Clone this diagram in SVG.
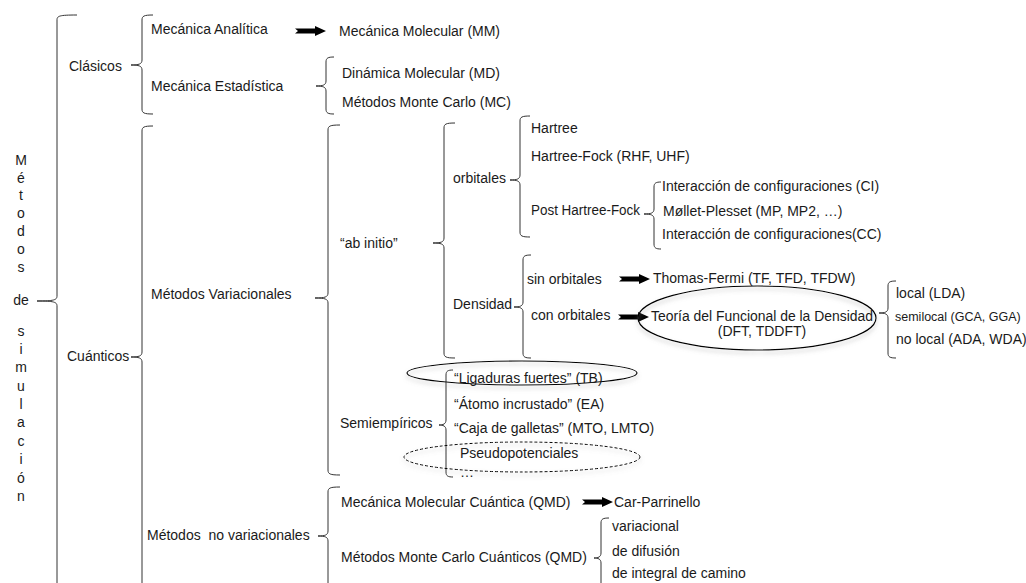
<svg xmlns="http://www.w3.org/2000/svg" width="1026" height="583" viewBox="0 0 1026 583">
<style>
text{font-family:"Liberation Sans",Arial,sans-serif;font-size:14px;fill:#1a1a1a;white-space:pre}
.v{text-anchor:middle}
.b{fill:none;stroke:#333;stroke-width:1}
.e{fill:none;stroke:#000;stroke-width:1.2;filter:url(#sh)}
.d{fill:none;stroke:#000;stroke-width:1;stroke-dasharray:3 2;filter:url(#sh)}
.a{fill:#000}
</style>
<defs>
<path id="arw" d="M0,-2.5 L20,-2.5 L20,-5 L31,0 L20,5 L20,2.5 L0,2.5 L3,0 Z"/>
<filter id="sh" x="-10%" y="-30%" width="120%" height="170%">
<feDropShadow dx="0" dy="3" stdDeviation="2" flood-color="#888" flood-opacity="0.55"/>
</filter>
</defs>
<rect width="1026" height="583" fill="#fff"/>
<g id="connectors">
<path class="b" d="M77,15 C59,15 57,16 57,20 L57,296 C57,300 54,301 37,301 C54,301 57,302 57,306 L57,600"/>
<path class="b" d="M153,15 C144,15 142,16 142,20 L142,60 C142,64 139,65 131,65 C139,65 142,66 142,70 L142,109 C142,113 144,114 153,114"/>
<path class="b" d="M153,126 C144,126 142,127 142,131 L142,352 C142,356 139,357 131,357 C139,357 142,358 142,362 L142,600"/>
<path class="b" d="M334,57 C328,57 326,58 326,62 L326,81 C326,85 323,86 316,86 C323,86 326,87 326,91 L326,109 C326,113 328,114 334,114"/>
<path class="b" d="M340,125 C330,125 328,126 328,130 L328,293 C328,297 325,298 315,298 C325,298 328,299 328,303 L328,470 C328,474 330,475 340,475"/>
<path class="b" d="M340,487 C330,487 328,488 328,492 L328,531 C328,535 325,536 318,536 C325,536 328,537 328,541 L328,600"/>
<path class="b" d="M455,123 C446,123 444,124 444,128 L444,238 C444,242 441,243 433,243 C441,243 444,244 444,248 L444,353 C444,357 446,358 455,358"/>
<path class="b" d="M530,116 C522,116 520,117 520,121 L520,175 C520,179 517,180 510,180 C517,180 520,181 520,185 L520,232 C520,236 522,237 530,237"/>
<path class="b" d="M661,182 C656,182 654,183 654,187 L654,209 C654,213 651,214 644,214 C651,214 654,215 654,219 L654,244 C654,248 656,249 661,249"/>
<path class="b" d="M531,255 C525,255 523,256 523,260 L523,302 C523,306 520,307 514,307 C520,307 523,308 523,312 L523,353 C523,357 525,358 531,358"/>
<path class="b" d="M896,281 C890,281 888,282 888,286 L888,308 C888,312 885,313 879,313 C885,313 888,314 888,318 L888,353 C888,357 890,358 896,358"/>
<path class="b" d="M453,370 C448,370 446,371 446,375 L446,420 C446,424 443,425 439,425 C443,425 446,426 446,430 L446,472 C446,476 448,477 453,477"/>
<path class="b" d="M609,518 C603,518 601,519 601,523 L601,553 C601,557 598,558 594,558 C598,558 601,559 601,563 L601,600"/>
<use href="#arw" class="a" x="295" y="31"/>
<use href="#arw" class="a" x="619" y="279"/>
<use href="#arw" class="a" x="618" y="317"/>
<use href="#arw" class="a" x="582" y="502"/>
</g>
<g id="n-metodos">
<text class="v" x="21" y="165">M</text><text class="v" x="21" y="183">é</text><text class="v" x="21" y="200">t</text><text class="v" x="21" y="218">o</text><text class="v" x="21" y="236">d</text><text class="v" x="21" y="254">o</text><text class="v" x="21" y="272">s</text><text class="v" x="21" y="305">de</text><text class="v" x="21" y="336">s</text><text class="v" x="21" y="354">i</text><text class="v" x="21" y="372">m</text><text class="v" x="21" y="391">u</text><text class="v" x="21" y="409">l</text><text class="v" x="21" y="427">a</text><text class="v" x="21" y="446">c</text><text class="v" x="21" y="464">i</text><text class="v" x="21" y="483">ó</text><text class="v" x="21" y="501">n</text>
</g>
<g id="n-clasicos"><text x="69" y="71">Clásicos</text></g>
<g id="n-mec-analitica"><text x="151" y="34">Mecánica Analítica</text></g>
<g id="n-mm"><text x="339" y="36">Mecánica Molecular (MM)</text></g>
<g id="n-mec-estadistica"><text x="151" y="91">Mecánica Estadística</text></g>
<g id="n-md"><text x="342" y="78">Dinámica Molecular (MD)</text></g>
<g id="n-mc"><text x="342" y="107">Métodos Monte Carlo (MC)</text></g>
<g id="n-cuanticos"><text x="67" y="361">Cuánticos</text></g>
<g id="n-variacionales"><text x="151" y="299">Métodos Variacionales</text></g>
<g id="n-abinitio"><text x="340" y="248">“ab initio”</text></g>
<g id="n-orbitales"><text x="453" y="183">orbitales</text></g>
<g id="n-hartree"><text x="531" y="133">Hartree</text></g>
<g id="n-hf"><text x="531" y="161">Hartree-Fock (RHF, UHF)</text></g>
<g id="n-posthf"><text x="531" y="215" textLength="109" lengthAdjust="spacingAndGlyphs">Post Hartree-Fock</text></g>
<g id="n-ci"><text x="662" y="191">Interacción de configuraciones (CI)</text></g>
<g id="n-mp"><text x="663" y="216">Møllet-Plesset (MP, MP2, …)</text></g>
<g id="n-cc"><text x="662" y="239">Interacción de configuraciones(CC)</text></g>
<g id="n-densidad"><text x="453" y="309">Densidad</text></g>
<g id="n-sinorb"><text x="527" y="284">sin orbitales</text></g>
<g id="n-conorb"><text x="531" y="320">con orbitales</text></g>
<g id="n-tf"><text x="653" y="283">Thomas-Fermi (TF, TFD, TFDW)</text></g>
<g id="n-dft">
<ellipse class="e" cx="757" cy="318" rx="119" ry="32"/>
<text x="651" y="321" textLength="222" lengthAdjust="spacingAndGlyphs">Teoría del Funcional de la Densidad</text>
<text class="v" x="762" y="336">(DFT, TDDFT)</text>
</g>
<g id="n-lda"><text x="896" y="298">local (LDA)</text></g>
<g id="n-gga"><text x="895" y="321" style="font-size:12.5px">semilocal (GCA, GGA)</text></g>
<g id="n-nolocal"><text x="896" y="344">no local (ADA, WDA)</text></g>
<g id="n-semi"><text x="340" y="428">Semiempíricos</text></g>
<g id="n-tb">
<ellipse class="e" cx="522" cy="373" rx="115" ry="12"/>
<text x="454" y="383">“Ligaduras fuertes” (TB)</text>
</g>
<g id="n-ea"><text x="454" y="409">“Átomo incrustado” (EA)</text></g>
<g id="n-mto"><text x="454" y="433">“Caja de galletas” (MTO, LMTO)</text></g>
<g id="n-pseudo">
<ellipse class="d" cx="522" cy="457" rx="118" ry="15"/>
<text x="460" y="458">Pseudopotenciales</text>
</g>
<g id="n-etc"><text x="460" y="477">…</text></g>
<g id="n-novar"><text x="147" y="540">Métodos  no variacionales</text></g>
<g id="n-qmd"><text x="341" y="507">Mecánica Molecular Cuántica (QMD)</text></g>
<g id="n-cp"><text x="614" y="507">Car-Parrinello</text></g>
<g id="n-qmc"><text x="341" y="562">Métodos Monte Carlo Cuánticos (QMD)</text></g>
<g id="n-var"><text x="612" y="531">variacional</text></g>
<g id="n-dif"><text x="612" y="556">de difusión</text></g>
<g id="n-int"><text x="612" y="578">de integral de camino</text></g>
</svg>
